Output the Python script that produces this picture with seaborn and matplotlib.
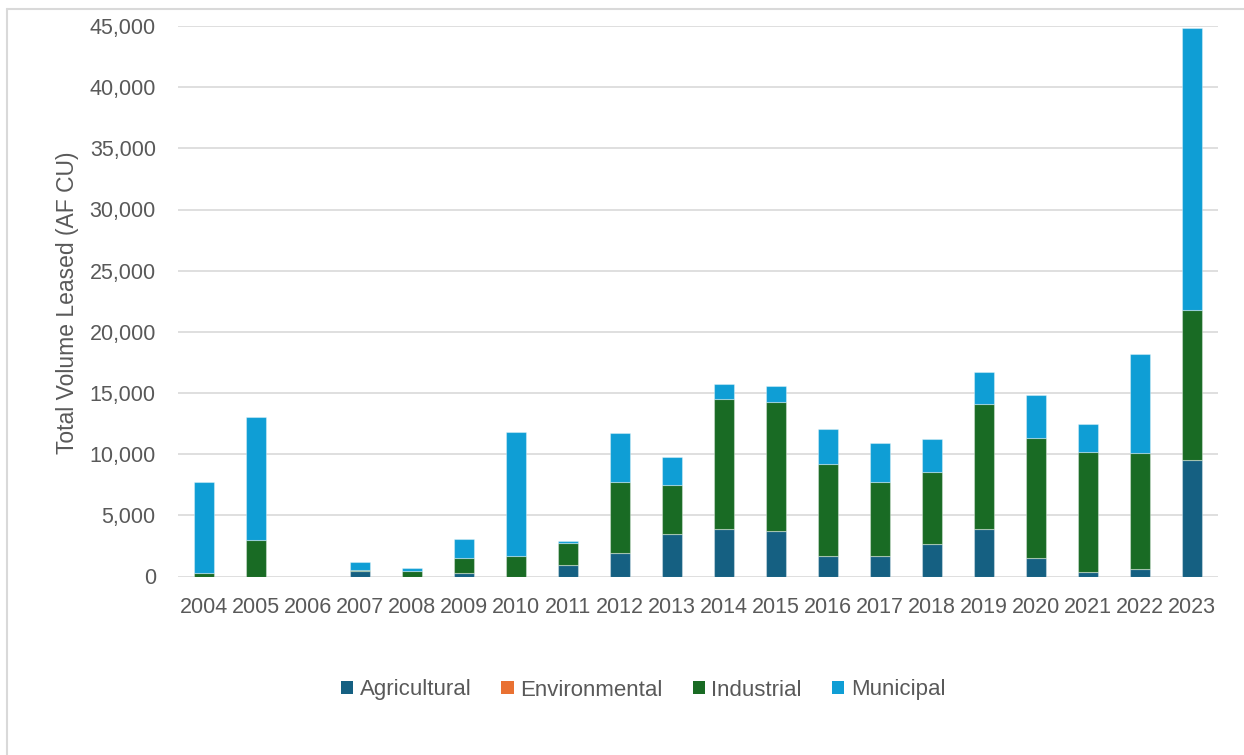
import matplotlib
matplotlib.use("Agg")
import matplotlib.pyplot as plt
from matplotlib.patches import Patch
from matplotlib.lines import Line2D
from matplotlib.ticker import FuncFormatter, MultipleLocator
import pandas as pd
import seaborn as sns

# Annual leased volume by use type (acre-feet of consumptive use)
years = list(range(2004, 2024))
agricultural = [0, 0, 0, 470, 0, 250, 0, 900, 1900, 3450, 3900, 3750,
                1700, 1650, 2650, 3850, 1500, 400, 600, 9550]
environmental = [0] * 20
industrial = [250, 2950, 0, 100, 450, 1300, 1650, 1800, 5850, 4000, 10600, 10550,
              7500, 6100, 5900, 10250, 9850, 9750, 9500, 12200]
municipal = [7500, 10050, 0, 630, 250, 1500, 10200, 200, 4000, 2300, 1250, 1300,
             2850, 3150, 2700, 2600, 3450, 2300, 8100, 23100]

uses = ["Agricultural", "Environmental", "Industrial", "Municipal"]
colors = {"Agricultural": "#156082", "Environmental": "#E97132",
          "Industrial": "#196B24", "Municipal": "#0F9ED5"}

frame = pd.DataFrame({
    "year": years * 4,
    "use": sum([[u] * len(years) for u in uses], []),
    "volume": agricultural + environmental + industrial + municipal,
})

sns.set_theme(style="white")
plt.rcParams["font.family"] = ["Liberation Sans", "DejaVu Sans"]
text_color = "#595959"
grid_color = "#D9D9D9"

W, H = 1244, 755
fig = plt.figure(figsize=(W / 100, H / 100), dpi=100)
left, right, top, bottom = 178, 1218, 26, 576.5
ax = fig.add_axes([left / W, 1 - bottom / H, (right - left) / W, (bottom - top) / H])

# Stack order: the last hue level sits at the bottom of each bar
sns.histplot(data=frame, x="year", weights="volume", hue="use",
             hue_order=uses[::-1], palette=colors, multiple="stack",
             discrete=True, shrink=0.4, alpha=1, linewidth=0.8,
             edgecolor=(1, 1, 1, 0.35), legend=False, ax=ax, zorder=3)

ax.set_xlim(2003.5, 2023.5)
ax.set_ylim(0, 45000)
ax.set_xticks(years)
ax.set_xticklabels([str(y) for y in years])
ax.yaxis.set_major_locator(MultipleLocator(5000))
ax.yaxis.set_major_formatter(FuncFormatter(lambda v, p: f"{int(v):,}"))
ax.grid(axis="y", color=grid_color, linewidth=1.2, zorder=0)
ax.grid(axis="x", visible=False)
for s in ax.spines.values():
    s.set_visible(False)
ax.tick_params(axis="both", length=0, labelsize=15.5, labelcolor=text_color)
ax.tick_params(axis="y", pad=16)
ax.tick_params(axis="x", pad=15)
ax.set_xlabel("")
ax.set_ylabel("")

fig.text(68 / W, 1 - 303 / H, "Total Volume Leased (AF CU)", rotation=90,
         ha="center", va="center", fontsize=16.5, color=text_color)

handles = [Patch(facecolor=colors[u], edgecolor="none", label=u) for u in uses]
fig.legend(handles=handles, loc="center", bbox_to_anchor=(643 / W, 1 - 690 / H),
           ncol=4, frameon=False, fontsize=16, labelcolor=text_color,
           handlelength=0.55, handleheight=0.55, handletextpad=0.3,
           columnspacing=1.35)

# Chart frame
fig.add_artist(Line2D([7.5 / W, 7.5 / W], [0, 1 - 8.5 / H], transform=fig.transFigure,
                      color=grid_color, linewidth=1.5))
fig.add_artist(Line2D([7.5 / W, 1], [1 - 8.5 / H, 1 - 8.5 / H], transform=fig.transFigure,
                      color=grid_color, linewidth=1.5))

fig.savefig("out.png", dpi=100, facecolor="white")
